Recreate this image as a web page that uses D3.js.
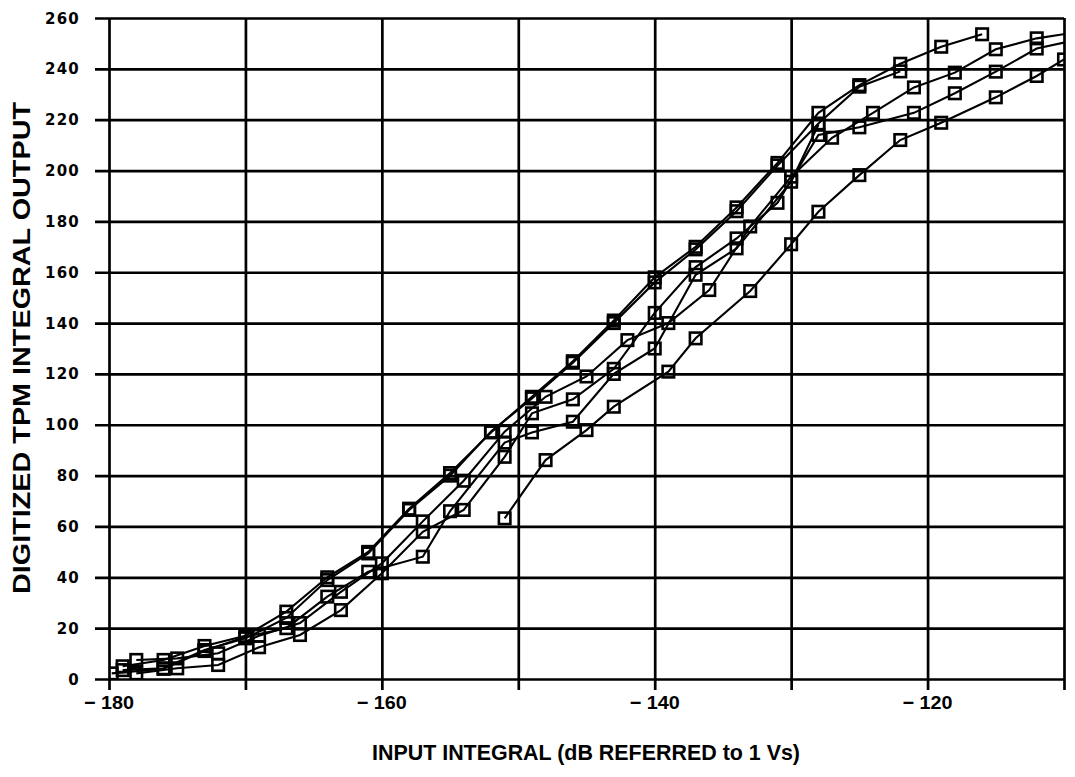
<!DOCTYPE html>
<html>
<head>
<meta charset="utf-8">
<script src="https://cdnjs.cloudflare.com/ajax/libs/d3/7.8.5/d3.min.js"></script>
<style>
  body { margin: 0; background: #fff; }
  .grid line { stroke: #000; stroke-width: 2.7; }
  .grid path { display: none; }
</style>
</head>
<body>
<svg id="chart"></svg>
<script>
// Axis ticks
const X_TICKS = [-180, -160, -140, -120];
const X_GRID = [-180, -170, -160, -150, -140, -130, -120, -110];
const Y_TICKS = [0, 20, 40, 60, 80, 100, 120, 140, 160, 180, 200, 220, 240, 260];

// Series: [input dB, digitized output]
const seriesA = [[-179,5],[-176,7.5],[-173,13],[-170,17],[-167,26.5],[-164,40],[-161,50],[-158,67],[-155,81],[-152,97],[-149,111],[-146,125],[-143,141],[-140,158],[-137,170],[-134,185.5],[-131,203],[-128,222.7],[-125,233.6],[-122,242],[-119,248.7],[-116,253.6]];
const seriesE = [[-179,3.5],[-176,4.2],[-173,11.4],[-170,16],[-167,24],[-164,38.9],[-161,49.4],[-158,66.5],[-155,80],[-152,97.3],[-149,110.4],[-146,124.4],[-143,140],[-140,156],[-137,169],[-134,184],[-131,202],[-128,218.5],[-125,233],[-122,239]];
const seriesB = [[-178,7.5],[-175,8.1],[-172,10.1],[-169,17],[-166,22],[-163,34.3],[-160,45.5],[-157,62],[-154,78],[-151,97.3],[-148,111],[-145,119],[-142,133.3],[-139,140],[-136,153],[-133,178],[-130,197.6],[-127,212.9],[-124,222.7],[-121,232.7],[-118,238.5],[-115,247.7],[-112,252],[-109,254.5]];
const seriesC = [[-178,2.2],[-175,4.2],[-172,5.5],[-169,12.5],[-166,17.3],[-163,27.1],[-160,41.6],[-157,57.9],[-154,66.5],[-151,87.4],[-149,104.5],[-146,110],[-143,122],[-140,144],[-137,162],[-134,173.3],[-131,187.3],[-128,214],[-125,217],[-121,222.7],[-118,230.4],[-115,238.9],[-112,248],[-109,251.5]];
const seriesF = [[-179.8,2.2],[-176,4],[-173,11],[-170,16.6],[-167,20],[-164,32.4],[-161,42.2],[-157,48.1],[-155,66],[-151,93],[-149,97],[-146,101.2],[-143,120],[-140,130],[-137,159],[-134,169.4],[-130,195.6],[-128,218]];
const seriesD = [[-151,63.2],[-148,86.1],[-145,97.9],[-143,107.1],[-139,120.9],[-137,134],[-133,152.6],[-130,171],[-128,183.8],[-125,198.2],[-122,212],[-119,218.8],[-115,228.8],[-112,237.2],[-110,243.7]];
const SERIES = [seriesA, seriesE, seriesB, seriesC, seriesF, seriesD];

// SVG constants
const WIDTH = 1075;
const HEIGHT = 777;
const LEFT = 109, RIGHT = 1064, TOP = 18, BOTTOM = 679;
const FONT_NARROW = "Liberation Sans, Arial, sans-serif";

const svg = d3.select("#chart")
  .attr("width", WIDTH)
  .attr("height", HEIGHT);

// Scales
const xScale = d3.scaleLinear().domain([-180, -110]).range([LEFT, RIGHT]);
const yScale = d3.scaleLinear().domain([0, 260]).range([BOTTOM, TOP]);

// Grid lines (with tick stubs outside the plot)
svg.append("g")
  .attr("class", "grid")
  .attr("transform", `translate(0,${BOTTOM})`)
  .call(d3.axisBottom(xScale).tickValues(X_GRID).tickSize(-(BOTTOM - TOP)).tickSizeOuter(0).tickFormat(""))
  .call(g => g.selectAll("line").attr("y2", -(BOTTOM - TOP)).attr("y1", 11));

svg.append("g")
  .attr("class", "grid")
  .attr("transform", `translate(${LEFT},0)`)
  .call(d3.axisLeft(yScale).tickValues(Y_TICKS).tickSize(-(RIGHT - LEFT)).tickSizeOuter(0).tickFormat(""))
  .call(g => g.selectAll("line").attr("x1", -14));

// Tick labels
svg.append("g")
  .selectAll("text")
  .data(Y_TICKS)
  .enter()
  .append("text")
  .attr("x", 80)
  .attr("y", d => yScale(d) + 5.5)
  .attr("text-anchor", "end")
  .attr("font-family", "DejaVu Sans")
  .attr("font-weight", "bold")
  .attr("font-size", 15)
  .attr("letter-spacing", 1.2)
  .text(d => d);

svg.append("g")
  .selectAll("text")
  .data(X_TICKS)
  .enter()
  .append("text")
  .attr("x", d => xScale(d))
  .attr("y", 709)
  .attr("text-anchor", "middle")
  .attr("font-family", FONT_NARROW)
  .attr("font-weight", "bold")
  .attr("font-size", 19)
  .attr("textLength", 50)
  .attr("lengthAdjust", "spacingAndGlyphs")
  .text(d => "\u2212 " + Math.abs(d));

// Axis titles
svg.append("text")
  .attr("x", 586)
  .attr("y", 760)
  .attr("text-anchor", "middle")
  .attr("font-family", FONT_NARROW)
  .attr("font-weight", "bold")
  .attr("font-size", 22)
  .attr("textLength", 428)
  .attr("lengthAdjust", "spacingAndGlyphs")
  .text("INPUT INTEGRAL (dB REFERRED to 1 Vs)");

svg.append("text")
  .attr("transform", "translate(30,348) rotate(-90)")
  .attr("text-anchor", "middle")
  .attr("font-family", FONT_NARROW)
  .attr("font-weight", "bold")
  .attr("font-size", 24)
  .attr("textLength", 492)
  .attr("lengthAdjust", "spacingAndGlyphs")
  .text("DIGITIZED TPM INTEGRAL OUTPUT");

// Clip to plot area
svg.append("clipPath")
  .attr("id", "plot")
  .append("rect")
  .attr("x", LEFT).attr("y", TOP - 8)
  .attr("width", RIGHT - LEFT + 1).attr("height", BOTTOM - TOP + 8);

const plot = svg.append("g").attr("clip-path", "url(#plot)");

const line = d3.line().x(d => xScale(d[0])).y(d => yScale(d[1]));

// Draw lines
plot.selectAll(".series")
  .data(SERIES)
  .enter()
  .append("path")
  .attr("class", "series")
  .attr("d", line)
  .attr("fill", "none")
  .attr("stroke", "#000")
  .attr("stroke-width", 2.1);

// Draw square markers
const SQ = 11.5;
plot.selectAll(".marks")
  .data(SERIES)
  .enter()
  .append("g")
  .selectAll("rect")
  .data(d => d)
  .enter()
  .append("rect")
  .attr("x", d => xScale(d[0]) - SQ / 2)
  .attr("y", d => yScale(d[1]) - SQ / 2)
  .attr("width", SQ)
  .attr("height", SQ)
  .attr("fill", "none")
  .attr("stroke", "#000")
  .attr("stroke-width", 2.6);
</script>
</body>
</html>
